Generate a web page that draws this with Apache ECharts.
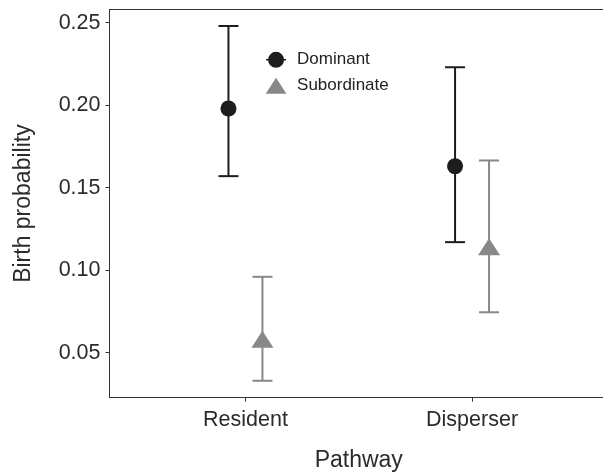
<!DOCTYPE html>
<html>
<head>
<meta charset="utf-8">
<script src="https://cdn.jsdelivr.net/npm/echarts@6/dist/echarts.min.js"></script>
<style>
  html, body { margin: 0; padding: 0; background: #fff; }
  #chart { width: 603px; height: 474px; }
</style>
</head>
<body>
<div id="chart"></div>
<script>
const categories = [ 'Resident', 'Disperser' ]
const dominantMean = [ 0.198, 0.163 ]
const dominantLow = [ 0.157, 0.117 ]
const dominantHigh = [ 0.248, 0.223 ]
const subordinateMean = [ 0.0565, 0.1125 ]
const subordinateLow = [ 0.033, 0.0745 ]
const subordinateHigh = [ 0.096, 0.1665 ]
const yTicks = [ 0.05, 0.10, 0.15, 0.20, 0.25 ]

const dodge = 0.075
const dark = '#1e1c1d'
const grey = '#888888'
const frame = '#333'
const font = 'Liberation Sans, Arial, sans-serif'

const xPos = ( i, side ) => i + 1 + side * dodge

const points = ( means, side ) => means.map( ( v, i ) => [ xPos( i, side ), v ] )
const bars = ( lows, highs, side ) => lows.map( ( v, i ) => [ xPos( i, side ), v, highs[ i ] ] )

const errorBar = color => ( params, api ) => {
	const x = api.value( 0 )
	const lo = api.coord( [ x, api.value( 1 ) ] )
	const hi = api.coord( [ x, api.value( 2 ) ] )
	const half = 10
	const style = { stroke: color, lineWidth: 2 }
	return {
		type: 'group',
		children: [
			{ type: 'line', shape: { x1: lo[ 0 ], y1: lo[ 1 ], x2: hi[ 0 ], y2: hi[ 1 ] }, style },
			{ type: 'line', shape: { x1: lo[ 0 ] - half, y1: lo[ 1 ], x2: lo[ 0 ] + half, y2: lo[ 1 ] }, style },
			{ type: 'line', shape: { x1: hi[ 0 ] - half, y1: hi[ 1 ], x2: hi[ 0 ] + half, y2: hi[ 1 ] }, style },
		]
	}
}

const chart = echarts.init( document.getElementById( 'chart' ), null, { renderer: 'canvas' } )

const option = {
	animation: false,
	textStyle: { fontFamily: font },
	grid: {
		left: 109.5, top: 9.5, right: -5, bottom: 76.3,
		outerBoundsMode: 'none'
	},
	legend: {
		orient: 'vertical',
		left: 265.7,
		top: 51.3,
		itemWidth: 32,
		itemHeight: 16,
		itemGap: 9,
		padding: 0,
		selectedMode: false,
		textStyle: { fontSize: 17, color: '#222', fontFamily: font },
		data: [
			{ name: 'Dominant', icon: 'path://M2,8 a8,8 0 1,0 16,0 a8,8 0 1,0 -16,0 Z M0,7.3 v1.4 h20 v-1.4 Z', itemStyle: { color: dark } },
			{ name: 'Subordinate', icon: 'path://M11,0 L22,17 L0,17 Z', itemStyle: { color: grey } }
		]
	},
	xAxis: [
		{
			type: 'value',
			min: 0.4,
			max: 2.6,
			splitLine: { show: false },
			axisLine: { show: true, onZero: false, lineStyle: { color: frame, width: 1 } },
			axisTick: { show: true, length: 4, customValues: [ 1, 2 ], lineStyle: { color: frame } },
			axisLabel: {
				customValues: [ 1, 2 ],
				formatter: v => categories[ Math.round( v ) - 1 ],
				fontSize: 21.5, color: '#2b2b2b', margin: 11, fontFamily: font
			},
			name: 'Pathway',
			nameLocation: 'middle',
			nameGap: 51,
			nameTextStyle: { fontSize: 23, color: '#2b2b2b', fontFamily: font }
		},
		{
			type: 'value',
			position: 'top',
			min: 0.4,
			max: 2.6,
			splitLine: { show: false },
			axisLine: { show: true, onZero: false, lineStyle: { color: frame, width: 1 } },
			axisTick: { show: false },
			axisLabel: { show: false }
		}
	],
	yAxis: {
		type: 'value',
		min: 0.02273,
		max: 0.258,
		splitLine: { show: false },
		axisLine: { show: true, onZero: false, lineStyle: { color: frame, width: 1 } },
		axisTick: { show: true, length: 4, customValues: yTicks, lineStyle: { color: frame } },
		axisLabel: {
			customValues: yTicks,
			formatter: v => v.toFixed( 2 ),
			fontSize: 21.5, color: '#2b2b2b', margin: 9, fontFamily: font
		},
		name: 'Birth probability',
		nameLocation: 'middle',
		nameGap: 74,
		nameRotate: 90,
		nameTextStyle: { fontSize: 23, color: '#2b2b2b', fontFamily: font }
	},
	series: [
		{
			name: 'Dominant CI',
			type: 'custom',
			renderItem: errorBar( dark ),
			encode: { x: 0, y: [ 1, 2 ] },
			data: bars( dominantLow, dominantHigh, -1 ),
			z: 2
		},
		{
			name: 'Subordinate CI',
			type: 'custom',
			renderItem: errorBar( grey ),
			encode: { x: 0, y: [ 1, 2 ] },
			data: bars( subordinateLow, subordinateHigh, 1 ),
			z: 2
		},
		{
			name: 'Dominant',
			type: 'scatter',
			symbol: 'circle',
			symbolSize: 16,
			itemStyle: { color: dark, opacity: 1 },
			data: points( dominantMean, -1 ),
			z: 3
		},
		{
			name: 'Subordinate',
			type: 'scatter',
			symbol: 'triangle',
			symbolSize: [ 22, 17 ],
			symbolOffset: [ 0, -2.8 ],
			itemStyle: { color: grey, opacity: 1 },
			data: points( subordinateMean, 1 ),
			z: 3
		}
	]
}

chart.setOption( option )
</script>
</body>
</html>
